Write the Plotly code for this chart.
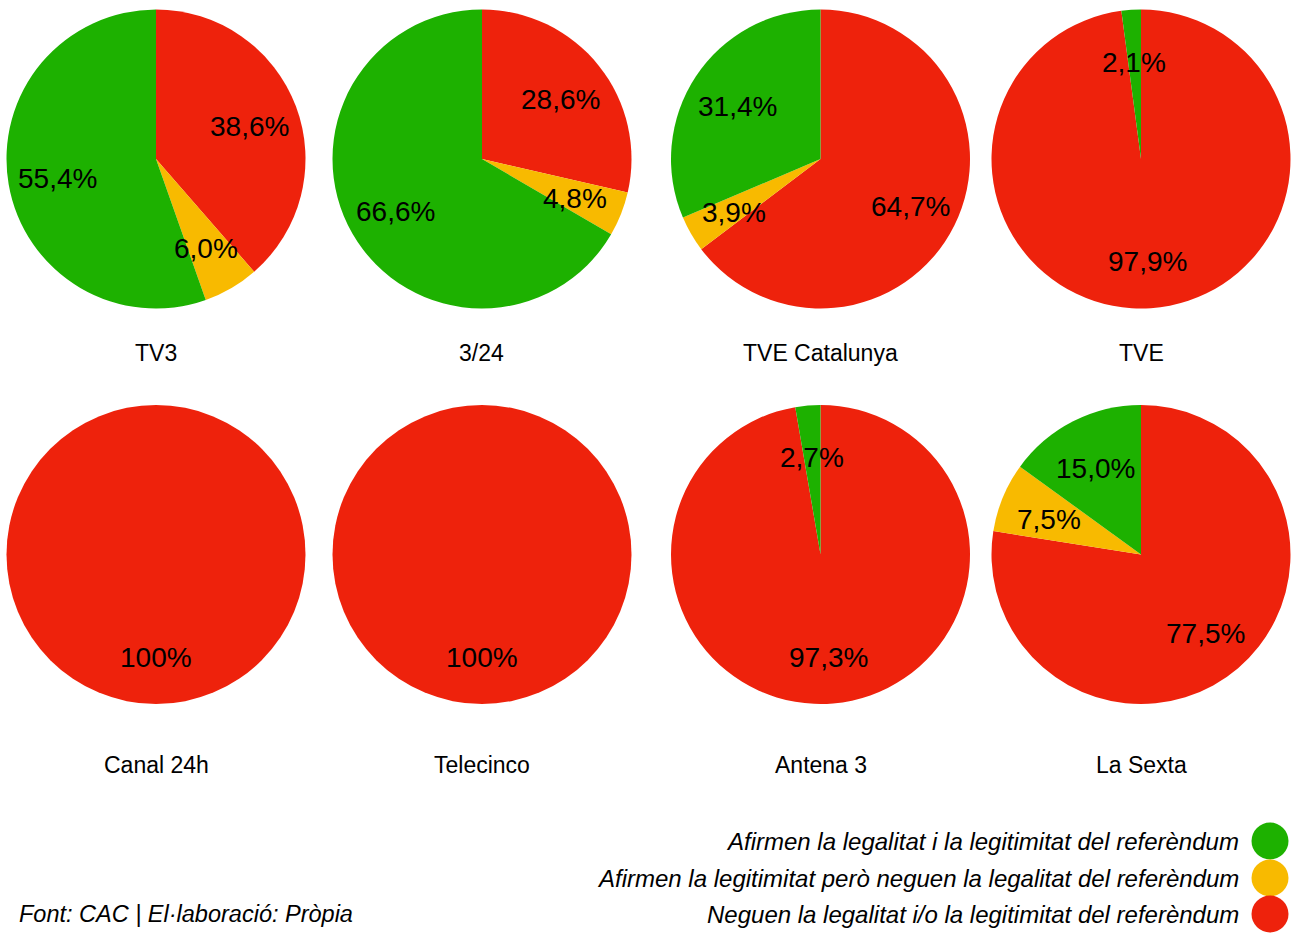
import math
import plotly.graph_objects as go

W, H = 1292, 934

# ---- data ----
channels = ["TV3", "3/24", "TVE Catalunya", "TVE",
            "Canal 24h", "Telecinco", "Antena 3", "La Sexta"]
# order inside each pie: red (neguen), yellow (legitimitat), green (legalitat i legitimitat)
neguen = [38.6, 28.6, 64.7, 97.9, 100.0, 100.0, 97.3, 77.5]
legitimitat = [6.0, 4.8, 3.9, 0.0, 0.0, 0.0, 0.0, 7.5]
legalitat_legitimitat = [55.4, 66.6, 31.4, 2.1, 0.0, 0.0, 2.7, 15.0]

legend_labels = [
    "Afirmen la legalitat i la legitimitat del referèndum",
    "Afirmen la legitimitat però neguen la legalitat del referèndum",
    "Neguen la legalitat i/o la legitimitat del referèndum",
]
source_text = "Font: CAC | El·laboració: Pròpia"

# ---- style / layout ----
RED, YELLOW, GREEN = "#EE220C", "#F8BA00", "#1DB100"
FONT = "Liberation Sans, Arial, Helvetica, sans-serif"
centers_x = [156, 482, 820.5, 1141]
centers_y = [159, 554.5]
R = 149.5
LABEL_R = 100
label_y = [353, 765]


def fmt(v):
    if abs(v - round(v)) < 1e-9 and v >= 100:
        return f"{int(round(v))}%"
    return f"{v:.1f}".replace(".", ",") + "%"


fig = go.Figure()
annotations = []

for i, name in enumerate(channels):
    row, col = divmod(i, 4)
    cx, cy = centers_x[col], centers_y[row]
    vals = [neguen[i], legitimitat[i], legalitat_legitimitat[i]]
    cols = [RED, YELLOW, GREEN]
    fig.add_trace(go.Pie(
        values=vals,
        labels=["Neguen", "Legitimitat", "Legalitat i legitimitat"],
        marker=dict(colors=cols, line=dict(width=0)),
        sort=False, direction="clockwise", rotation=0,
        textinfo="none", hoverinfo="label+percent",
        showlegend=False,
        domain=dict(x=[(cx - R) / W, (cx + R) / W],
                    y=[1 - (cy + R) / H, 1 - (cy - R) / H]),
    ))
    total = sum(vals)
    cum = 0.0
    for v in vals:
        if v > 0:
            mid = (cum + v / 2) / total * 2 * math.pi
            tx = cx + LABEL_R * math.sin(mid)
            ty = cy - LABEL_R * math.cos(mid) + 3
            annotations.append(dict(
                x=tx / W, y=1 - ty / H, xref="paper", yref="paper",
                text=fmt(v), showarrow=False, xanchor="center", yanchor="middle",
                font=dict(family=FONT, size=28, color="black")))
        cum += v
    annotations.append(dict(
        x=cx / W, y=1 - label_y[row] / H, xref="paper", yref="paper",
        text=name, showarrow=False, xanchor="center", yanchor="middle",
        font=dict(family=FONT, size=23, color="black")))

# legend (text right-aligned, dot on the right)
leg_y = [841, 878, 914]
leg_cols = [GREEN, YELLOW, RED]
fig.add_trace(go.Scatter(
    x=[1270] * 3, y=leg_y, mode="markers",
    marker=dict(size=37, color=leg_cols, line=dict(width=0)),
    hoverinfo="skip", showlegend=False, xaxis="x", yaxis="y"))
for t, yy in zip(legend_labels, leg_y):
    annotations.append(dict(
        x=1241 / W, y=1 - yy / H, xref="paper", yref="paper",
        text=f"<i>{t}</i>", showarrow=False, xanchor="right", yanchor="middle",
        font=dict(family=FONT, size=24, color="black")))
annotations.append(dict(
    x=17 / W, y=1 - 914 / H, xref="paper", yref="paper",
    text=f"<i>{source_text}</i>", showarrow=False, xanchor="left", yanchor="middle",
    font=dict(family=FONT, size=23.5, color="black")))

fig.update_layout(
    width=W, height=H,
    margin=dict(l=0, r=0, t=0, b=0),
    paper_bgcolor="white", plot_bgcolor="rgba(0,0,0,0)",
    xaxis=dict(range=[0, W], visible=False, domain=[0, 1], fixedrange=True),
    yaxis=dict(range=[H, 0], visible=False, domain=[0, 1], fixedrange=True),
    annotations=annotations,
    showlegend=False,
)

fig.write_html(
    "out.html",
    config={"displayModeBar": False},
    post_script="document.body.style.margin='0';document.body.style.overflow='hidden';",
)
